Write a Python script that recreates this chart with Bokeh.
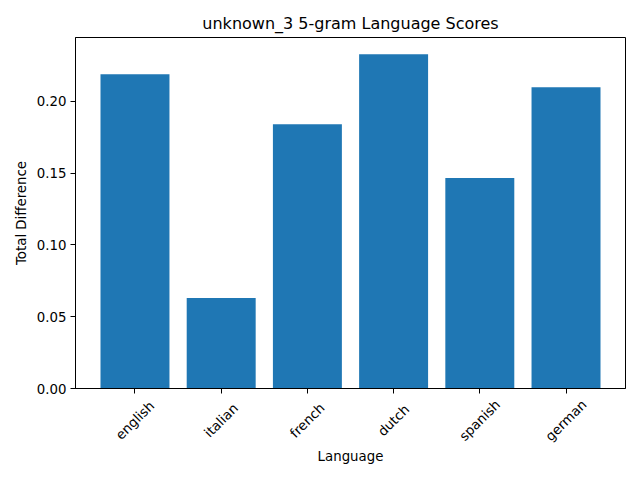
import math
from bokeh.plotting import figure
from bokeh.models import (FactorRange, Range1d, FixedTicker, NumeralTickFormatter,
                          ColumnDataSource, CustomLabelingPolicy)
from bokeh.core.properties import value
from bokeh.embed import file_html
from bokeh.resources import INLINE

languages = ["english", "italian", "french", "dutch", "spanish", "german"]
scores = [0.2188, 0.0630, 0.1840, 0.2327, 0.1465, 0.2097]
y_ticks = [0.00, 0.05, 0.10, 0.15, 0.20]

FONT = "DejaVu Sans"

src = ColumnDataSource(data=dict(lang=languages, score=scores, base=[0.0] * len(languages)))

p = figure(
    x_range=FactorRange(factors=languages, range_padding=0.19, range_padding_units="absolute"),
    y_range=Range1d(0, max(scores) * 1.05),
    frame_width=550, frame_height=351,
    min_border_left=75, min_border_right=7, min_border_top=37, min_border_bottom=84,
    output_backend="svg", toolbar_location=None,
    title="unknown_3 5-gram Language Scores",
)
p.vbar(x="lang", top="score", width=0.8, source=src, color="#1f77b4", line_color=None)

# rotated category labels, centred under each tick (matplotlib style)
p.text(x="lang", y="base", text="lang", source=src, angle=math.pi / 4,
       text_align="center", text_baseline="middle", y_offset=32,
       text_font=value(FONT), text_font_size="13.33px", text_color="black",
       level="annotation")

p.title.align = "center"
p.title.text_font = FONT
p.title.text_font_size = "16px"
p.title.text_font_style = "normal"
p.title.text_color = "black"

p.xgrid.visible = False
p.ygrid.visible = False
p.outline_line_color = "black"
p.outline_line_width = 1
p.outline_line_alpha = 1

p.yaxis.ticker = FixedTicker(ticks=y_ticks)
p.yaxis.formatter = NumeralTickFormatter(format="0.00")
p.xaxis.axis_label = "Language"
p.yaxis.axis_label = "Total Difference"

for ax in (p.xaxis, p.yaxis):
    ax.axis_line_color = "black"
    ax.major_tick_line_color = "black"
    ax.major_tick_out = 5
    ax.major_tick_in = 0
    ax.minor_tick_line_color = None
    ax.major_label_text_font = FONT
    ax.major_label_text_font_size = "13.33px"
    ax.major_label_text_color = "black"
    ax.axis_label_text_font = FONT
    ax.axis_label_text_font_size = "13.33px"
    ax.axis_label_text_font_style = "normal"
    ax.axis_label_text_color = "black"
    ax.major_label_standoff = 4

# the x axis keeps its ticks; its own labels are replaced by the rotated text above
p.xaxis.major_label_overrides = {lang: "" for lang in languages}
p.xaxis.major_label_policy = CustomLabelingPolicy(code="return null")
p.xaxis.major_label_text_font_size = "0px"
p.xaxis.axis_label_standoff = 55
p.yaxis.axis_label_standoff = 5

open("out.html", "w").write(file_html(p, INLINE))
